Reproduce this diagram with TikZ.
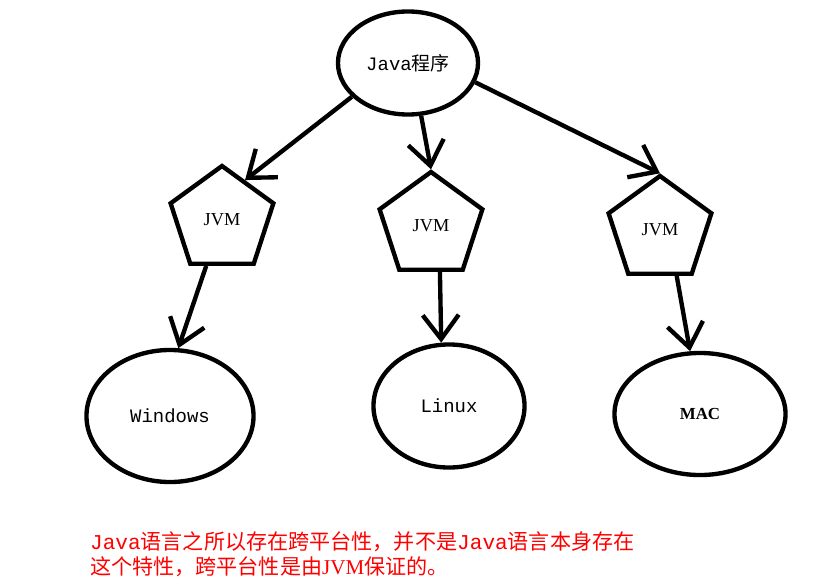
\documentclass[tikz,border=0pt]{standalone}
\usepackage{fontspec}
\setmainfont{Liberation Serif}
\setmonofont{Liberation Mono}
\newfontfamily\cjk{Noto Sans CJK SC}
\usetikzlibrary{shapes.geometric,arrows.meta}
\tikzset{
>={Straight Barb[length=0.6cm,width=0.9cm]}, % open arrow heads
every node/.style={inner sep=0pt},
program/.style={ellipse, draw, line width=3.1pt, minimum width=3.5cm, minimum height=2.575cm, font=\fontsize{13.5}{16}\selectfont},
vm/.style={regular polygon, regular polygon sides=5, minimum size=2.7cm, draw, line width=3.1pt, font=\fontsize{13}{15}\selectfont},
platform/.style={ellipse, draw, line width=3.1pt, font=\ttfamily\fontsize{13.5}{16}\selectfont},
note/.style={text=red, align=left, font=\cjk\fontsize{15}{17.8}\selectfont},
}

\begin{document}
\begin{tikzpicture}[x=0.025cm,y=-0.025cm,line width=3.1pt]
        \useasboundingbox (0,0) rectangle (840,586);
        \node[program] (java) at (408,63) {{\ttfamily Java}{\cjk 程序}};
        \node[vm] (jvm_1) at (222,220) {JVM};
        \node[vm] (jvm_2) at (431,226) {JVM};
        \node[vm] (jvm_3) at (660,230) {JVM};
        \node[platform, minimum width=4.175cm, minimum height=3.3cm] (win) at (170,416) {Windows};
        \node[platform, minimum width=3.775cm, minimum height=3.075cm] (linux) at (449,406) {Linux};
        \node[platform, minimum width=4.275cm, minimum height=3.05cm, font=\rmfamily\bfseries\fontsize{12}{14}\selectfont] (mac) at (700,414) {MAC};
        \path[->]
        (java.211) edge (jvm_1.60)
        (java.-76) edge (jvm_2.corner 1)
        (java.-16) edge (jvm_3.corner 1)
        (jvm_1.-109) edge (win.83)
        (jvm_2.-79) edge (linux.97)
        (jvm_3.-70) edge (mac.99);
        % remark below the tree
        \node[note, anchor=north west] (remark) at (88,529)
        {{\ttfamily Java}语言之所以存在跨平台性，并不是{\ttfamily Java}语言本身存在\\
         这个特性，跨平台性是由{\rmfamily JVM}保证的。};
        \end{tikzpicture}
\end{document}
